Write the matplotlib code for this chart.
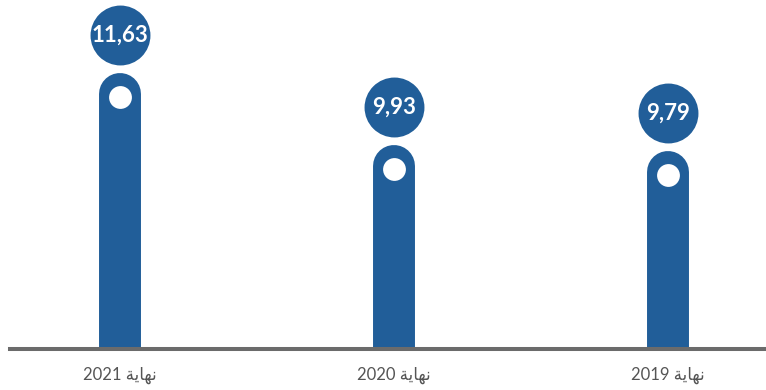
#!/usr/bin/env python3

"""
Year-end values shown as rounded pillars with a value badge on top.
"""

import matplotlib.pyplot as plt
from matplotlib.transforms import offset_copy

# "end of" written in pre-shaped Arabic presentation forms (visual order)
end_of = "\uFE94\uFEF3\uFE8E\uFEEC\uFEE7"

years = ["2021", "2020", "2019"]
values = [11.63, 9.93, 9.79]
value_labels = ["11,63", "9,93", "9,79"]

blue = "#215e99"
grey = "#6b6b6b"

fig = plt.figure(figsize=(7.66, 3.90), dpi=100)
ax = fig.add_axes([10 / 766, 41 / 390, 756 / 766, 349 / 390])

base = 5.6
xs = range(len(years))

# pillar bodies: thick lines with round caps, bottom cap clipped by the axes
for x, v in zip(xs, values):
    ax.plot([x, x], [base - 1, v], color=blue, linewidth=30.2,
            solid_capstyle="round", zorder=2)

# white dot inside the rounded top, sitting slightly below the cap centre
dot = offset_copy(ax.transData, fig=fig, x=0, y=-3, units="dots")
ax.scatter(xs, values, s=270, color="white", transform=dot,
           zorder=3, linewidths=0)

# value badges sit a fixed distance above each pillar top
badge = offset_copy(ax.transData, fig=fig, x=0, y=59, units="dots")
ax.scatter(xs, values, s=1860, color=blue, transform=badge,
           zorder=3, linewidths=0)
for x, v, lab in zip(xs, values, value_labels):
    ax.text(x, v, lab, transform=badge, ha="center", va="center",
            color="white", fontsize=16, fontweight="bold",
            family=["Lato", "DejaVu Sans"], zorder=4)

ax.set_xlim(-110 / 274, 646 / 274)
ax.set_ylim(base, base + 349 / 42.3)

ax.set_xticks(list(xs))
ax.set_xticklabels([f"{y} {end_of}" for y in years],
                   family=["Lato", "DejaVu Sans"], fontsize=12,
                   color="#555555")
ax.tick_params(axis="x", length=0, pad=13)
ax.set_yticks([])

for side in ["top", "left", "right"]:
    ax.spines[side].set_visible(False)
ax.spines["bottom"].set_color(grey)
ax.spines["bottom"].set_linewidth(2.9)
ax.spines["bottom"].set_zorder(5)
ax.patch.set_alpha(0)

fig.savefig("out.png", dpi=100)
